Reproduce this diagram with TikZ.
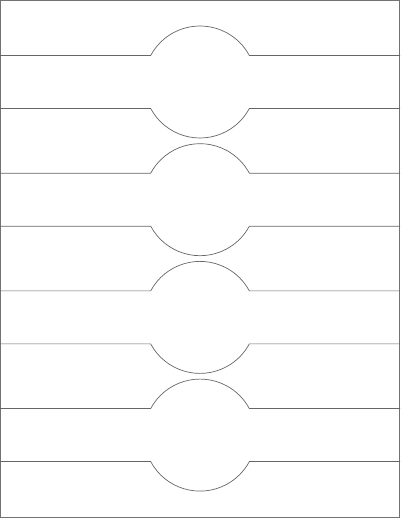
\documentclass[tikz,border=0pt]{standalone}
\usepackage{xcolor}
\usepackage{tikz}

\begin{document}
\begin{tikzpicture}[
    x=1pt, y=1pt,
    sheet/.style={draw=black!55, line width=0.9pt},
    cutline/.style={draw=black!60, line width=0.7pt},
    topedge/.style={cutline},
    bottomedge/.style={cutline}
]

\useasboundingbox (0,0) rectangle (400,518);

% Sheet
\draw[sheet] (0.5,0.5) rectangle (399.5,517.5);

% Label centres
\coordinate (lab1) at (200,436);
\coordinate (lab2) at (200,318.3);
\coordinate (lab3) at (200,200.6);
\coordinate (lab4) at (200,82.9);

% Label 1
\draw[topedge] ([shift={(-200,26.5)}]lab1) -- ++(150.67,0) arc[start angle=151.76, end angle=28.24, radius=56] -- ++(150.67,0);
\draw[bottomedge] ([shift={(-200,-26.5)}]lab1) -- ++(150.67,0) arc[start angle=208.24, end angle=331.76, radius=56] -- ++(150.67,0);

% Label 2
\draw[topedge] ([shift={(-200,26.5)}]lab2) -- ++(150.67,0) arc[start angle=151.76, end angle=28.24, radius=56] -- ++(150.67,0);
\draw[bottomedge] ([shift={(-200,-26.5)}]lab2) -- ++(150.67,0) arc[start angle=208.24, end angle=331.76, radius=56] -- ++(150.67,0);

% Label 3
\draw[topedge] ([shift={(-200,26.5)}]lab3) -- ++(150.67,0) arc[start angle=151.76, end angle=28.24, radius=56] -- ++(150.67,0);
\draw[bottomedge] ([shift={(-200,-26.5)}]lab3) -- ++(150.67,0) arc[start angle=208.24, end angle=331.76, radius=56] -- ++(150.67,0);

% Label 4
\draw[topedge] ([shift={(-200,26.5)}]lab4) -- ++(150.67,0) arc[start angle=151.76, end angle=28.24, radius=56] -- ++(150.67,0);
\draw[bottomedge] ([shift={(-200,-26.5)}]lab4) -- ++(150.67,0) arc[start angle=208.24, end angle=331.76, radius=56] -- ++(150.67,0);

\end{tikzpicture}
\end{document}
